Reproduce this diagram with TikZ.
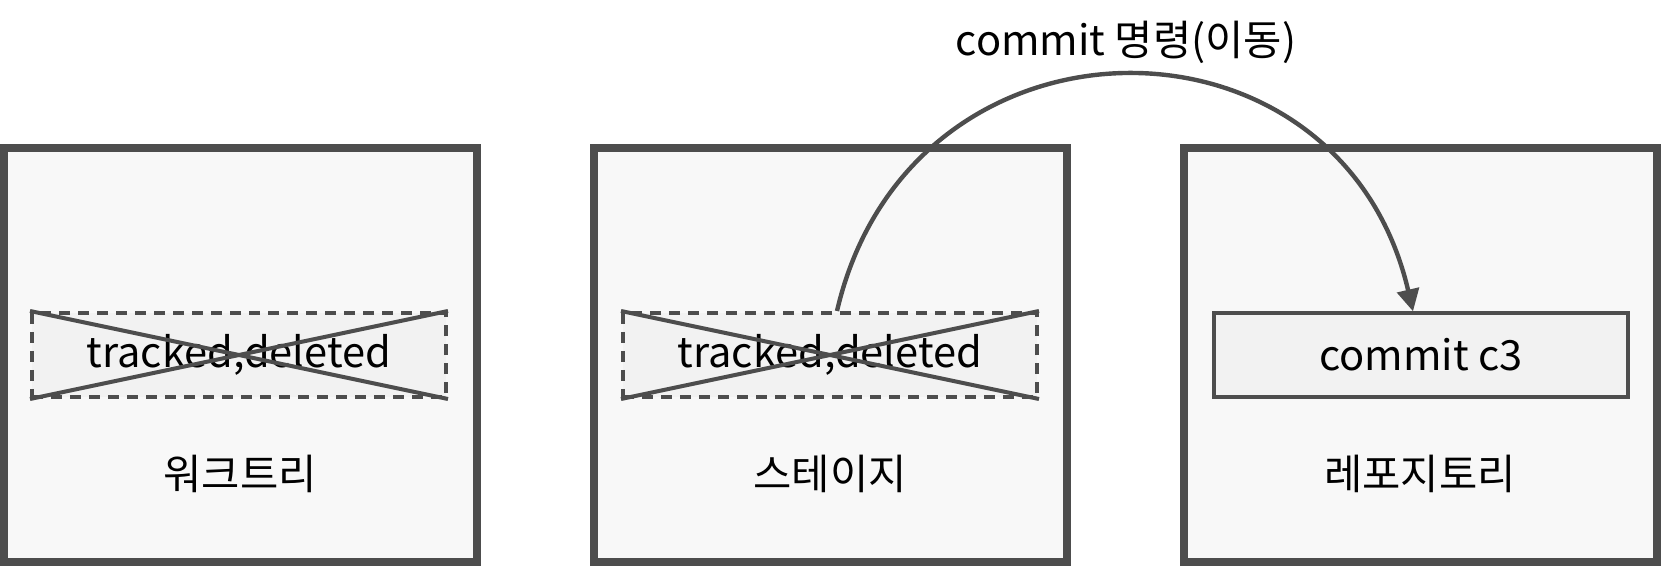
\documentclass[tikz,border=0pt]{standalone}
\usepackage{fontspec}
\setmainfont{Noto Sans CJK KR}
\usetikzlibrary{arrows.meta}
\definecolor{linegray}{HTML}{4D4D4D}
\definecolor{areafill}{HTML}{F8F8F8}
\definecolor{itemfill}{HTML}{F2F2F2}
\tikzset{>={Triangle[length=11pt,width=11pt]}}
\tikzset{
  area/.style={draw=linegray, line width=4pt, fill=areafill,
    minimum width=236.5pt, minimum height=207pt, inner sep=0pt},
  item/.style={draw=linegray, line width=1.7pt, fill=itemfill,
    minimum width=207pt, minimum height=42pt, inner sep=0pt,
    font=\fontsize{20.8}{25}\selectfont},
  gone/.style={item, line width=2pt, dash pattern=on 5.5pt off 4pt},
  areaname/.style={font=\fontsize{20.8}{25}\selectfont},
  strike/.style={draw=linegray, line width=2pt},
  move/.style={->, draw=linegray, line width=2.2pt}
}

\begin{document}
\begin{tikzpicture}[x=0.5pt, y=-0.5pt]
\useasboundingbox (0,0) rectangle (1662,567);
% three areas
\node[area] (work) at (240.5,355) {};
\node[area] (stage) at (830.5,355) {};
\node[area] (repo) at (1420.5,355) {};
\node[areaname] (workname) at (240,474) {워크트리};
\node[areaname] (stagename) at (830,474) {스테이지};
\node[areaname] (reponame) at (1420,474) {레포지토리};
% files
\node[gone] (wfile) at (239,355) {tracked,deleted};
\draw[strike] (wfile.north west)--(wfile.south east);
\draw[strike] (wfile.south west)--(wfile.north east);
\node[gone] (sfile) at (830,355) {tracked,deleted};
\draw[strike] (sfile.north west)--(sfile.south east);
\draw[strike] (sfile.south west)--(sfile.north east);
\node[item] (c3) at (1421,355) {commit c3};
% commit
\draw[move] ([xshift=3.5pt]sfile.north) .. controls (910,-3) and (1340,-3) .. ([xshift=-4pt]c3.north);
\node[areaname] (cmd) at (1126,42) {commit 명령(이동)};
\end{tikzpicture}
\end{document}
